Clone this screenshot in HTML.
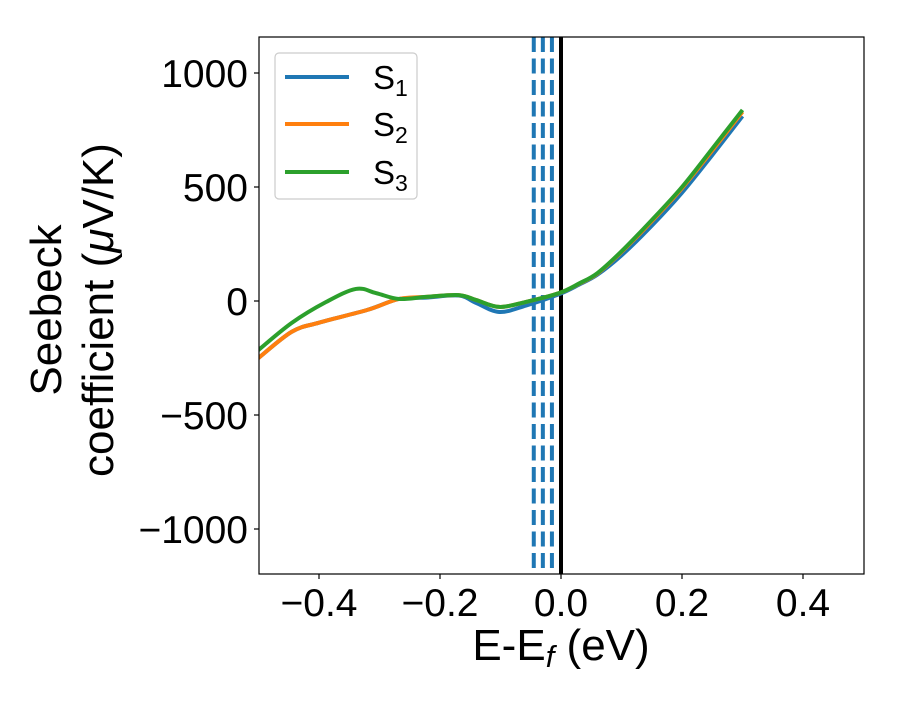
<!DOCTYPE html>
<html><head><meta charset="utf-8"><style>
body{margin:0;background:#fff}
svg text{font-family:"Liberation Sans","DejaVu Sans",sans-serif;fill:#000}
</style></head><body>
<svg id="chart" width="900" height="700">
<g id="plot"></g>
</svg>
<script>
const xTicks=[-0.4,-0.2,0.0,0.2,0.4];
const yTicks=[-1000,-500,0,500,1000];
const s1E=[-0.5,-0.445,-0.4,-0.32,-0.268,-0.223,-0.169,-0.14,-0.102,-0.058,-0.003,0.03,0.06,0.1,0.15,0.2,0.25,0.3];
const s1V=[-250,-135,-95,-39,9,15,24,-9,-48,-20,30,72,115,200,330,475,640,811];
const s2E=[-0.5,-0.445,-0.4,-0.32,-0.268,-0.223,-0.169,-0.14,-0.102,-0.058,-0.003,0.03,0.06,0.1,0.15,0.2,0.25,0.3];
const s2V=[-250,-135,-95,-39,9,18,26,4,-26,-4,35,76,120,215,350,495,660,830];
const s3E=[-0.5,-0.445,-0.388,-0.339,-0.306,-0.268,-0.223,-0.169,-0.14,-0.102,-0.058,-0.003,0.03,0.06,0.1,0.15,0.2,0.25,0.3];
const s3V=[-215,-96,-4,53,35,9,18,26,4,-26,-4,35,77,122,218,355,500,668,838];
const dashedE=[-0.045,-0.030,-0.015];
const L=259,R=864,T=37,B=574;
const xs=e=>561+e*605;
const ys=v=>301-v*0.228;
const NS="http://www.w3.org/2000/svg";
const svg=document.getElementById('chart');
function mk(t,a,p){const e=document.createElementNS(NS,t);for(const k in a)e.setAttribute(k,a[k]);(p||svg).appendChild(e);return e;}
const clip=mk('clipPath',{id:'cp'});mk('rect',{x:L,y:T,width:R-L,height:B-T},clip);
const plot=document.getElementById('plot');plot.setAttribute('clip-path','url(#cp)');
function path(E,V){const p=E.map((e,i)=>[xs(e),ys(V[i])]);let d='M'+p[0][0]+','+p[0][1];
for(let i=0;i<p.length-1;i++){const p0=p[Math.max(0,i-1)],p1=p[i],p2=p[i+1],p3=p[Math.min(p.length-1,i+2)];
d+=` C${p1[0]+(p2[0]-p0[0])/6},${p1[1]+(p2[1]-p0[1])/6} ${p2[0]-(p3[0]-p1[0])/6},${p2[1]-(p3[1]-p1[1])/6} ${p2[0]},${p2[1]}`;}return d;}
dashedE.forEach(e=>{const l=mk('line',{x1:xs(e),x2:xs(e),y1:T,y2:B,stroke:'#1f77b4','stroke-width':4,'stroke-dasharray':'15,6.5'},plot);

});
const z=mk('line',{x1:xs(0),x2:xs(0),y1:T,y2:B,stroke:'#000','stroke-width':4},plot);


[[s1E,s1V,'#1f77b4','series-s1'],[s2E,s2V,'#ff7f0e','series-s2'],[s3E,s3V,'#2ca02c','series-s3']].forEach(s=>{
const p=mk('path',{d:path(s[0],s[1]),fill:'none',stroke:s[2],'stroke-width':4},plot);

});
const fr=mk('rect',{x:L,y:T,width:R-L,height:B-T,fill:'none',stroke:'#000','stroke-width':1.2});


xTicks.forEach(t=>{mk('line',{x1:xs(t),x2:xs(t),y1:B,y2:B+5,stroke:'#000','stroke-width':1.2});
const tx=mk('text',{x:xs(t),y:B+42,'text-anchor':'middle','font-size':39});tx.textContent=(t<0?'\u2212':'')+Math.abs(t).toFixed(1);

});
yTicks.forEach(t=>{mk('line',{x1:L-5,x2:L,y1:ys(t),y2:ys(t),stroke:'#000','stroke-width':1.2});
const tx=mk('text',{x:L-11,y:ys(t)+14,'text-anchor':'end','font-size':39});tx.textContent=(t<0?'\u2212':'')+Math.abs(t);

});
</script>
<svg width="900" height="700" style="position:absolute;left:0;top:0">
<text x="561" y="660" text-anchor="middle" font-size="44">E-E<tspan font-style="italic" font-size="31" dy="7">f</tspan><tspan dy="-7"> (eV)</tspan></text>
<g transform="translate(61,310) rotate(-90)">
<text x="0" y="0" text-anchor="middle" font-size="44">Seebeck</text>
<text x="0" y="52" text-anchor="middle" font-size="44">coefficient  (<tspan font-style="italic">μ</tspan>V/K)</text>
</g>
<g>
<rect x="275" y="53" width="142" height="146" rx="4" fill="#fff" fill-opacity="0.8" stroke="#ccc" stroke-width="1.2"/>
<g><line x1="285" x2="349" y1="77" y2="77" stroke="#1f77b4" stroke-width="4"/><text x="373" y="89" font-size="33">S<tspan font-size="23" dy="7">1</tspan></text></g>
<g><line x1="285" x2="349" y1="124" y2="124" stroke="#ff7f0e" stroke-width="4"/><text x="373" y="136" font-size="33">S<tspan font-size="23" dy="7">2</tspan></text></g>
<g><line x1="285" x2="349" y1="172" y2="172" stroke="#2ca02c" stroke-width="4"/><text x="373" y="184" font-size="33">S<tspan font-size="23" dy="7">3</tspan></text></g>
</g>
</svg>
</body></html>
